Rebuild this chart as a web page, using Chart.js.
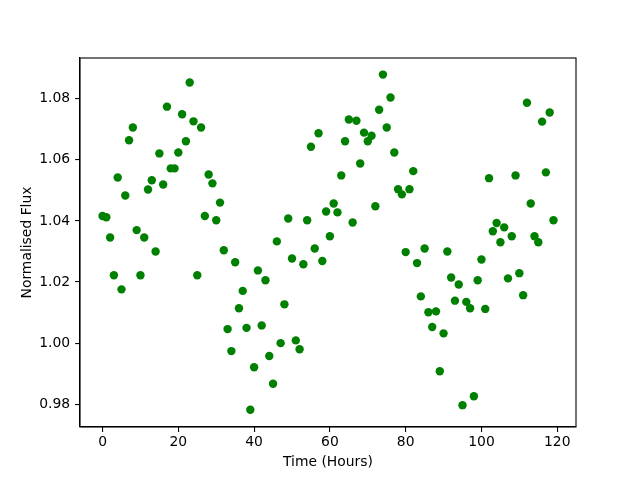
<!DOCTYPE html>
<html>
<head>
<meta charset="utf-8">
<title>Normalised Flux</title>
<script src="https://cdn.jsdelivr.net/npm/chart.js@4/dist/chart.umd.min.js"></script>
<style>
  body { margin: 0; background: #fff; }
  canvas { display: block; background: #fff; }
</style>
</head>
<body>
<canvas id="flux-chart" width="640" height="480"></canvas>
<script>
// Time of each measurement (hours)
const hours = [
  0, 1, 2, 3, 4, 5, 6, 7, 8, 9, 10, 11, 12, 13, 14, 15, 16, 17, 18, 19,
  20, 21, 22, 23, 24, 25, 26, 27, 28, 29, 30, 31, 32, 33, 34, 35, 36, 37, 38, 39,
  40, 41, 42, 43, 44, 45, 46, 47, 48, 49, 50, 51, 52, 53, 54, 55, 56, 57, 58, 59,
  60, 61, 62, 63, 64, 65, 66, 67, 68, 69, 70, 71, 72, 73, 74, 75, 76, 77, 78, 79,
  80, 81, 82, 83, 84, 85, 86, 87, 88, 89, 90, 91, 92, 93, 94, 95, 96, 97, 98, 99,
  100, 101, 102, 103, 104, 105, 106, 107, 108, 109, 110, 111, 112, 113, 114, 115, 116, 117, 118, 119
];

// Normalised flux
const flux = [
  1.0416, 1.0412, 1.0346, 1.0222, 1.0542, 1.0176, 1.0483, 1.0664, 1.0706, 1.0370,
  1.0222, 1.0346, 1.0503, 1.0533, 1.0300, 1.0621, 1.0519, 1.0774, 1.0572, 1.0572,
  1.0624, 1.0749, 1.0661, 1.0853, 1.0726, 1.0222, 1.0706, 1.0416, 1.0552, 1.0523,
  1.0402, 1.0460, 1.0304, 1.0046, 0.9974, 1.0265, 1.0114, 1.0171, 1.0050, 0.9782,
  0.9921, 1.0238, 1.0058, 1.0206, 0.9958, 0.9867, 1.0333, 1.0000, 1.0127, 1.0408,
  1.0277, 1.0009, 0.9980, 1.0258, 1.0402, 1.0643, 1.0310, 1.0687, 1.0269, 1.0431,
  1.0350, 1.0457, 1.0428, 1.0549, 1.0661, 1.0732, 1.0395, 1.0728, 1.0588, 1.0689,
  1.0661, 1.0679, 1.0448, 1.0764, 1.0879, 1.0706, 1.0804, 1.0624, 1.0504, 1.0487,
  1.0298, 1.0504, 1.0563, 1.0262, 1.0153, 1.0310, 1.0101, 1.0053, 1.0104, 0.9908,
  1.0032, 1.0300, 1.0215, 1.0139, 1.0192, 0.9797, 1.0135, 1.0114, 0.9826, 1.0206,
  1.0274, 1.0112, 1.0540, 1.0366, 1.0393, 1.0330, 1.0379, 1.0212, 1.0350, 1.0549,
  1.0229, 1.0157, 1.0787, 1.0457, 1.0350, 1.0330, 1.0725, 1.0559, 1.0755, 1.0402
];

// Tick labels
const xTicks = [0, 20, 40, 60, 80, 100, 120];
const yTicks = [0.98, 1.00, 1.02, 1.04, 1.06, 1.08];

const FONT = { family: 'DejaVu Sans', size: 13.9 };
const TICK_LEN = 4.9;

// Draw the box round the plot area (matplotlib style spines)
const framePlugin = {
  id: 'frame',
  afterDatasetsDraw(chart) {
    const { ctx, chartArea } = chart;
    ctx.save();
    ctx.strokeStyle = '#000';
    ctx.lineWidth = 1.1;
    ctx.strokeRect(chartArea.left, chartArea.top,
      chartArea.right - chartArea.left, chartArea.bottom - chartArea.top);
    ctx.restore();
  }
};

function initFluxChart() {
  const ctx = document.getElementById('flux-chart');
  if (!ctx) return;

  new Chart(ctx, {
    type: 'scatter',
    data: {
      datasets: [{
        label: 'Flux',
        data: hours.map((h, i) => ({ x: h, y: flux[i] })),
        backgroundColor: '#008000',
        borderWidth: 0,
        pointRadius: 4.2,
        pointHoverRadius: 4.2
      }]
    },
    options: {
      responsive: false,
      animation: false,
      devicePixelRatio: 1,
      layout: {
        padding: { left: 0, right: 64, top: 58, bottom: 0 }
      },
      scales: {
        x: {
          type: 'linear',
          min: -5.95,
          max: 124.95,
          afterFit(scale) { scale.height = 53; },
          afterBuildTicks(scale) { scale.ticks = xTicks.map(v => ({ value: v })); },
          border: { display: true, color: '#000', width: 1.1 },
          grid: {
            display: true,
            drawOnChartArea: false,
            drawTicks: true,
            tickLength: TICK_LEN,
            color: '#000',
            lineWidth: 1.1
          },
          ticks: {
            color: '#000',
            font: FONT,
            padding: 2,
            maxRotation: 0,
            autoSkip: false,
            callback: v => String(v)
          },
          title: {
            display: true,
            text: 'Time (Hours)',
            color: '#000',
            font: FONT,
            padding: { top: 0, bottom: 9 }
          }
        },
        y: {
          type: 'linear',
          min: 0.97255,
          max: 1.09333,
          afterFit(scale) { scale.width = 80; },
          afterBuildTicks(scale) { scale.ticks = yTicks.map(v => ({ value: v })); },
          border: { display: true, color: '#000', width: 1.1 },
          grid: {
            display: true,
            drawOnChartArea: false,
            drawTicks: true,
            tickLength: TICK_LEN,
            color: '#000',
            lineWidth: 1.1
          },
          ticks: {
            color: '#000',
            font: FONT,
            padding: 4.9,
            autoSkip: false,
            callback: v => v.toFixed(2)
          },
          title: {
            display: true,
            text: 'Normalised Flux',
            color: '#000',
            font: FONT,
            padding: { top: 19, bottom: 0 }
          }
        }
      },
      plugins: {
        legend: { display: false },
        tooltip: { enabled: false }
      }
    },
    plugins: [framePlugin]
  });
}

document.addEventListener('DOMContentLoaded', () => {
  initFluxChart();
});
</script>
</body>
</html>
